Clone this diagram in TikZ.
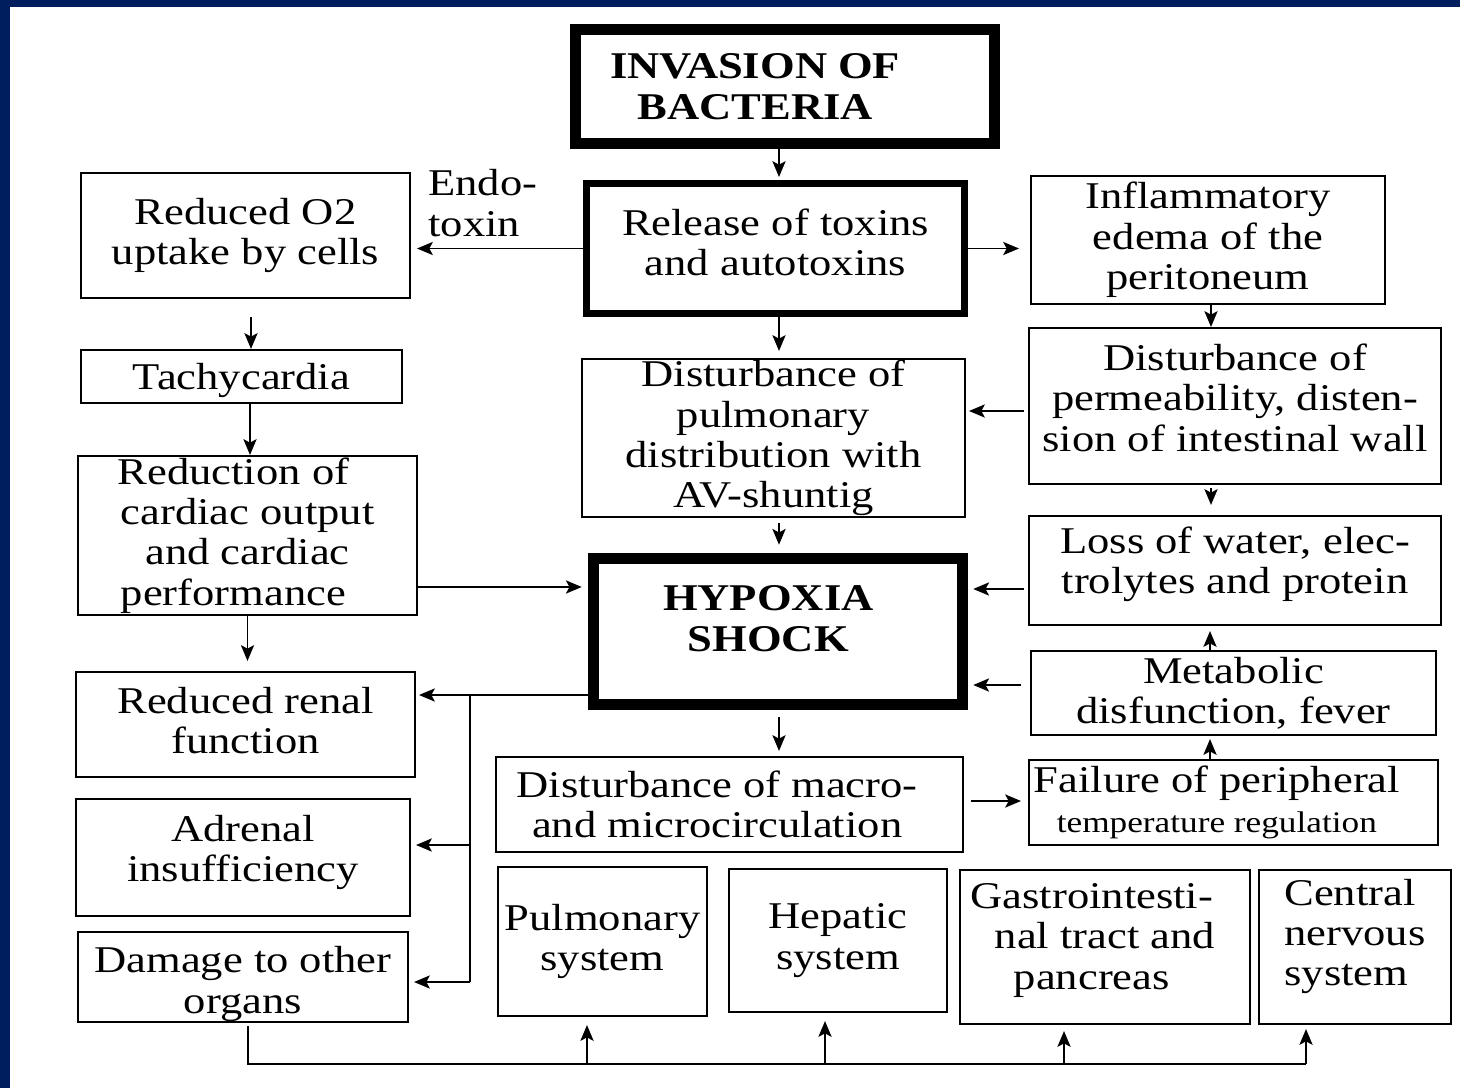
\documentclass[tikz,border=0pt]{standalone}
\usepackage{fontspec}
\setmainfont{Liberation Serif}[FakeStretch=1.18]
\usepackage{tikz}
\usetikzlibrary{arrows.meta, positioning}
\definecolor{framenavy}{RGB}{0,30,94}
\newcommand{\boxfont}{\fontsize{21.5}{23}\selectfont}
\newcommand{\smallboxfont}{\fontsize{17}{20}\selectfont}

\tikzset{
    box/.style={draw, line width=1.2pt, align=center, inner sep=0pt, font=\boxfont},
    heavybox/.style={box, line width=6pt, font=\boxfont\bfseries},
    midbox/.style={box, line width=4pt},
    arr/.style={-{Stealth[length=9pt, width=7.5pt, inset=2pt]}, line width=1pt},
    wire/.style={line width=1pt},
}

\begin{document}
\begin{tikzpicture}[x=0.02cm, y=-0.02cm]
    \useasboundingbox (0,0) rectangle (1460,1088);
    \fill[white] (0,0) rectangle (1460,1088);
    % 幻灯片边框
    \fill[framenavy] (0,0) rectangle (1460,7);
    \fill[framenavy] (0,0) rectangle (10,1088);

    % 中间一列
    \node[heavybox, minimum width=8.38cm, minimum height=2.28cm] (inv) at (785,86.5) {INVASION OF\hspace*{34pt}\\BACTERIA\hspace*{34pt}};
    \node[midbox, text depth=7.4pt, minimum width=7.56cm, minimum height=2.6cm] (rel) at (775.5,248.5) {Release of toxins\\and autotoxins};
    \node[box, minimum width=7.66cm, minimum height=3.16cm] (pulmdist) at (773.5,438) {Disturbance of\\pulmonary\\distribution with\\AV-shuntig};
    \node[heavybox, text depth=15pt, minimum width=7.38cm, minimum height=2.92cm] (hyp) at (778,631.5) {HYPOXIA\hspace*{11pt}\\SHOCK\hspace*{11pt}};
    \node[box, minimum width=9.34cm, minimum height=1.9cm] (macro) at (729.5,804.5) {Disturbance of macro-\hspace*{14pt}\\and microcirculation\hspace*{14pt}};

    % 左侧一列
    \node[box, minimum width=6.58cm, minimum height=2.5cm] (ruptake) at (245.5,235.5) {Reduced O2\\uptake by cells};
    \node[font=\boxfont, align=left, anchor=west, inner sep=0pt] (endo) at (428,203) {Endo-\\toxin};
    \node[box, text height=19.3pt, minimum width=6.42cm, minimum height=1.06cm] (tachy) at (241.5,376.5) {Tachycardia};
    \node[box, minimum width=6.78cm, minimum height=3.18cm] (redcard) at (247.5,535.5) {Reduction of\hspace*{16pt}\\cardiac output\hspace*{16pt}\\and cardiac\hspace*{16pt}\\performance\hspace*{16pt}};
    \node[box, text depth=4.6pt, minimum width=6.78cm, minimum height=2.1cm] (renal) at (245.5,724.5) {Reduced renal\\function};
    \node[box, text depth=10.4pt, minimum width=6.68cm, minimum height=2.34cm] (adrenal) at (243,857.5) {Adrenal\\insufficiency};
    \node[box, text height=45.7pt, minimum width=6.6cm, minimum height=1.8cm] (organs) at (243,977) {Damage to other\\organs};

    % 右侧一列
    \node[box, minimum width=7.08cm, minimum height=2.56cm] (inflam) at (1208,240) {Inflammatory\\edema of the\\peritoneum};
    \node[box, text depth=9.7pt, minimum width=8.24cm, minimum height=3.12cm] (perm) at (1235,406) {Disturbance of\\permeability, disten-\\sion of intestinal wall};
    \node[box, text depth=11.5pt, minimum width=8.24cm, minimum height=2.18cm] (loss) at (1235,570.5) {Loss of water, elec-\\trolytes and protein};
    \node[box, minimum width=8.1cm, minimum height=1.68cm] (metab) at (1233.5,693) {Metabolic\\disfunction, fever};
    \node[box, minimum width=8.18cm, minimum height=1.7cm] (temp) at (1233.5,802.5) {Failure of peripheral\hspace*{19pt}\\{\smallboxfont temperature regulation}\hspace*{19pt}};

    % 底部器官
    \node[box, minimum width=4.18cm, minimum height=2.98cm] (pulm) at (602.5,941.5) {Pulmonary\\system};
    \node[box, minimum width=4.36cm, minimum height=2.86cm] (hepatic) at (838,940.5) {Hepatic\\system};
    \node[box, text depth=12pt, minimum width=5.8cm, minimum height=3.08cm] (gastro) at (1105,947) {Gastrointesti-\hspace*{15pt}\\nal tract and\hspace*{15pt}\\pancreas\hspace*{15pt}};
    \node[box, align=left, text depth=16.7pt, minimum width=3.84cm, minimum height=3.08cm] (cns) at (1355,947) {Central\\nervous\\system};

    % 箭头
    \draw[arr, shorten >=0.06cm] ([xshift=-0.12cm]inv.south) -- ([xshift=-0.12cm]inv.south |- rel.north);
    \draw[arr, shorten >=0.12cm] (rel.west) -- (rel.west -| ruptake.east);
    \draw[arr, shorten >=0.22cm] (rel.east) -- (rel.east -| inflam.west);
    \draw[arr, shorten >=0.14cm] ([xshift=0.07cm]rel.south) -- ([xshift=0.07cm]rel.south |- pulmdist.north);
    \draw[arr, shorten <=0.36cm] ([xshift=0.11cm]ruptake.south) -- ([xshift=0.11cm]ruptake.south |- tachy.north);
    \draw[arr] ([xshift=0.17cm]tachy.south) -- ([xshift=0.17cm]tachy.south |- redcard.north);
    \draw[arr, shorten >=0.2cm] (redcard.south) -- (redcard.south |- renal.north);
    \draw[arr, shorten >=0.13cm] ([yshift=-1.03cm]redcard.east) -- ([yshift=-1.03cm]redcard.east -| hyp.west);
    \draw[arr, shorten <=0.1cm, shorten >=0.17cm] ([xshift=0.11cm]pulmdist.south) -- ([xshift=0.11cm]pulmdist.south |- hyp.north);
    \draw[arr] ([xshift=0.06cm]inflam.south) -- ([xshift=0.06cm]inflam.south |- perm.north);
    \draw[arr, shorten <=0.08cm, shorten >=0.06cm] ([yshift=-0.1cm]perm.west) -- ([yshift=-0.1cm]perm.west -| pulmdist.east);
    \draw[arr, shorten <=0.06cm, shorten >=0.2cm] ([xshift=-0.48cm]perm.south) -- ([xshift=-0.48cm]perm.south |- loss.north);
    \draw[arr, shorten <=0.08cm, shorten >=0.11cm] ([yshift=-0.37cm]loss.west) -- ([yshift=-0.37cm]loss.west -| hyp.east);
    \draw[arr, shorten >=0.1cm] ([xshift=-0.47cm]metab.north) -- ([xshift=-0.47cm]metab.north |- loss.south);
    \draw[arr, shorten <=0.18cm, shorten >=0.11cm] ([yshift=0.16cm]metab.west) -- ([yshift=0.16cm]metab.west -| hyp.east);
    \draw[arr, shorten <=0.15cm, shorten >=0.1cm] ([xshift=0.02cm]hyp.south) -- ([xshift=0.02cm]hyp.south |- macro.north);
    \draw[arr, shorten <=0.14cm, shorten >=0.14cm] ([yshift=0.07cm]macro.east) -- ([yshift=0.07cm]macro.east -| temp.west);
    \draw[arr, shorten >=0.06cm] ([xshift=-0.47cm]temp.north) -- ([xshift=-0.47cm]temp.north |- metab.south);

    % 左侧汇总线
    \coordinate (lbus) at (470,695);
    \coordinate (lbusA) at (470,845);
    \coordinate (lbusB) at (470,982);
    \draw[wire] (hyp.west |- lbus) -- (lbus) -- (lbusB);
    \draw[arr, shorten >=0.06cm] (lbus) -- (lbus -| renal.east);
    \draw[arr, shorten >=0.1cm] (lbusA) -- (lbusA -| adrenal.east);
    \draw[arr, shorten >=0.1cm] (lbusB) -- (lbusB -| organs.east);

    % 底部汇总线
    \coordinate (bbus) at (248,1064);
    \coordinate (bbusA) at (587,1064);
    \coordinate (bbusB) at (825,1064);
    \coordinate (bbusC) at (1064,1064);
    \coordinate (bbusD) at (1306,1064);
    \draw[wire, shorten <=0.06cm] (organs.south -| bbus) -- (bbus) -- (bbusD);
    \draw[arr, shorten >=0.16cm] (bbusA) -- (bbusA |- pulm.south);
    \draw[arr, shorten >=0.16cm] (bbusB) -- (bbusB |- hepatic.south);
    \draw[arr, shorten >=0.12cm] (bbusC) -- (bbusC |- gastro.south);
    \draw[arr, shorten >=0.08cm] (bbusD) -- (bbusD |- cns.south);
\end{tikzpicture}
\end{document}
